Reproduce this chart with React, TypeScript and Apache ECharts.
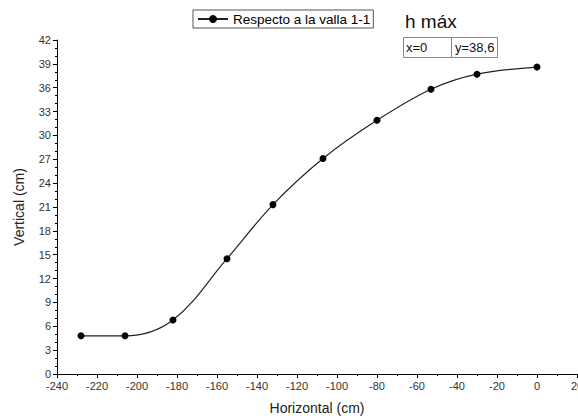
import React, { useEffect, useRef } from "react";
import * as echarts from "echarts";

const xValues = [-228, -206, -182, -155, -132, -107, -80, -53, -30, 0];
const yValues = [4.8, 4.8, 6.8, 14.5, 21.3, 27.1, 31.9, 35.8, 37.7, 38.6];
const seriesName = "Respecto a la valla 1-1";
const maxLabel = "h máx";
const maxX = "x=0";
const maxY = "y=38,6";

export default function App() {
  const ref = useRef<HTMLDivElement>(null);
  useEffect(() => {
    const chart = echarts.init(ref.current!, null, { renderer: "svg" });
    const font = "Liberation Sans, Arial, sans-serif";
    chart.setOption({
      animation: false,
      backgroundColor: "#fff",
      textStyle: { fontFamily: font },
      grid: { left: 57, right: 1, top: 40, bottom: 42, containLabel: false, outerBoundsMode: "none" },
      legend: {
        left: 193,
        top: 10,
        padding: [2, 3, 2, 4],
        borderColor: "#555",
        borderWidth: 1,
        borderRadius: 0,
        itemWidth: 30,
        itemHeight: 10,
        itemGap: 4,
        textStyle: { fontSize: 13.5, color: "#000", fontFamily: font },
        data: [seriesName],
      },
      xAxis: {
        type: "value",
        min: -240,
        max: 20,
        interval: 20,
        name: "Horizontal (cm)",
        nameLocation: "middle",
        nameGap: 27,
        nameTextStyle: { fontSize: 14, color: "#222", fontFamily: font },
        axisLine: { show: true, onZero: false, lineStyle: { color: "#000", width: 1 } },
        axisTick: { show: true, inside: false, length: 4, lineStyle: { color: "#000" } },
        minorTick: { show: true, splitNumber: 2, length: 2, lineStyle: { color: "#000" } },
        axisLabel: { fontSize: 11, color: "#333", margin: 6, fontFamily: font },
        splitLine: { show: false },
      },
      yAxis: {
        type: "value",
        min: 0,
        max: 42,
        interval: 3,
        name: "Vertical (cm)",
        nameLocation: "middle",
        nameGap: 31,
        nameTextStyle: { fontSize: 14, color: "#222", fontFamily: font },
        axisLine: { show: true, onZero: false, lineStyle: { color: "#000", width: 1 } },
        axisTick: { show: true, inside: false, length: 4, lineStyle: { color: "#000" } },
        minorTick: { show: true, splitNumber: 3, length: 2, lineStyle: { color: "#000" } },
        axisLabel: { fontSize: 11, color: "#333", margin: 6, fontFamily: font },
        splitLine: { show: false },
      },
      series: [
        {
          name: seriesName,
          type: "line",
          data: xValues.map((x, i) => [x, yValues[i]]),
          smooth: 0.35,
          symbol: "circle",
          symbolSize: 7,
          itemStyle: { color: "#000" },
          lineStyle: { color: "#222", width: 1.2 },
        },
      ],
      graphic: [
        {
          type: "text",
          left: 405,
          top: 12,
          style: { text: maxLabel, fontSize: 19, fill: "#111", fontFamily: font },
        },
        {
          type: "rect",
          shape: { x: 403.5, y: 37.5, width: 94, height: 20 },
          style: { fill: "#fff", stroke: "#888", lineWidth: 1 },
        },
        {
          type: "line",
          shape: { x1: 451.5, y1: 37.5, x2: 451.5, y2: 57.5 },
          style: { stroke: "#888", lineWidth: 1 },
        },
        {
          type: "text",
          left: 406,
          top: 41,
          style: { text: maxX, fontSize: 13, fill: "#111", fontFamily: font },
        },
        {
          type: "text",
          left: 455,
          top: 41,
          style: { text: maxY, fontSize: 13, fill: "#111", fontFamily: font },
        },
      ],
    });
    return () => chart.dispose();
  }, []);
  return <div ref={ref} style={{ width: 578, height: 416, position: "fixed", left: 0, top: 0 }} />;
}
